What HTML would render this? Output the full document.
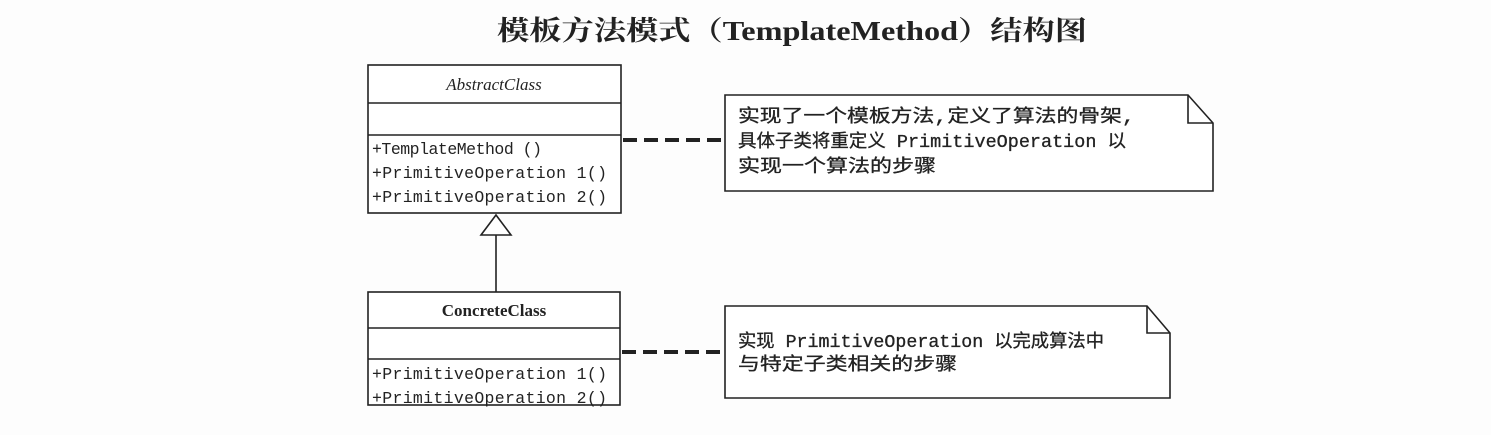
<!DOCTYPE html>
<html><head><meta charset="utf-8"><style>
body{margin:0;background:#fff;width:1491px;height:435px;overflow:hidden}
</style></head><body>
<svg width="1491" height="435" xmlns="http://www.w3.org/2000/svg">
<rect width="1491" height="435" fill="#fdfdfd"/>
<text x="497" y="40" textLength="590" lengthAdjust="spacingAndGlyphs" font-family="'Liberation Serif','Noto Serif CJK SC',serif" font-weight="bold" font-size="27" fill="#222">模板方法模式（TemplateMethod）结构图</text>
<g stroke="#222" stroke-width="1.6" fill="#fff">
<rect x="368" y="65" width="253" height="148"/>
<line x1="368" y1="103" x2="621" y2="103"/>
<line x1="368" y1="135" x2="621" y2="135"/>
<rect x="368" y="292" width="252" height="113"/>
<line x1="368" y1="328" x2="620" y2="328"/>
<line x1="368" y1="359" x2="620" y2="359"/>
<line x1="496" y1="235" x2="496" y2="292"/>
<polygon points="496,215 481,235 511,235"/>
<path d="M725,95 H1188 L1213,123 V191 H725 Z"/>
<path d="M1188,95 V123 H1213" fill="none"/>
<path d="M725,306 H1147 L1170,333 V398 H725 Z"/>
<path d="M1147,306 V333 H1170" fill="none"/>
</g>
<g stroke="#222" stroke-width="4" stroke-dasharray="14,7">
<line x1="623" y1="140" x2="725" y2="140"/>
<line x1="622" y1="352" x2="725" y2="352"/>
</g>
<g font-family="'Liberation Mono','Noto Sans CJK SC',monospace" font-size="16.5" fill="#222">
<text x="494" y="90" text-anchor="middle" font-style="italic" font-family="'Liberation Serif',serif" font-size="17">AbstractClass</text>
<text x="372" y="154" textLength="170">+TemplateMethod ()</text>
<text x="372" y="178" textLength="235">+PrimitiveOperation 1()</text>
<text x="372" y="202" textLength="235">+PrimitiveOperation 2()</text>
<text x="494" y="316" text-anchor="middle" font-weight="bold" font-family="'Liberation Serif',serif" font-size="17">ConcreteClass</text>
<text x="372" y="379" textLength="235">+PrimitiveOperation 1()</text>
<text x="372" y="403" textLength="235">+PrimitiveOperation 2()</text>
</g>
<g font-family="'Liberation Mono','Noto Sans CJK SC',monospace" font-size="18" fill="#222" stroke="#222" stroke-width="0.3">
<text x="738" y="122" textLength="397" lengthAdjust="spacingAndGlyphs">实现了一个模板方法,定义了算法的骨架,</text>
<text x="738" y="147" textLength="388" lengthAdjust="spacingAndGlyphs">具体子类将重定义 PrimitiveOperation 以</text>
<text x="738" y="172" textLength="198" lengthAdjust="spacingAndGlyphs">实现一个算法的步骤</text>
<text x="738" y="347" textLength="366" lengthAdjust="spacingAndGlyphs">实现 PrimitiveOperation 以完成算法中</text>
<text x="738" y="370" textLength="219" lengthAdjust="spacingAndGlyphs">与特定子类相关的步骤</text>
</g>
</svg>
</body></html>
